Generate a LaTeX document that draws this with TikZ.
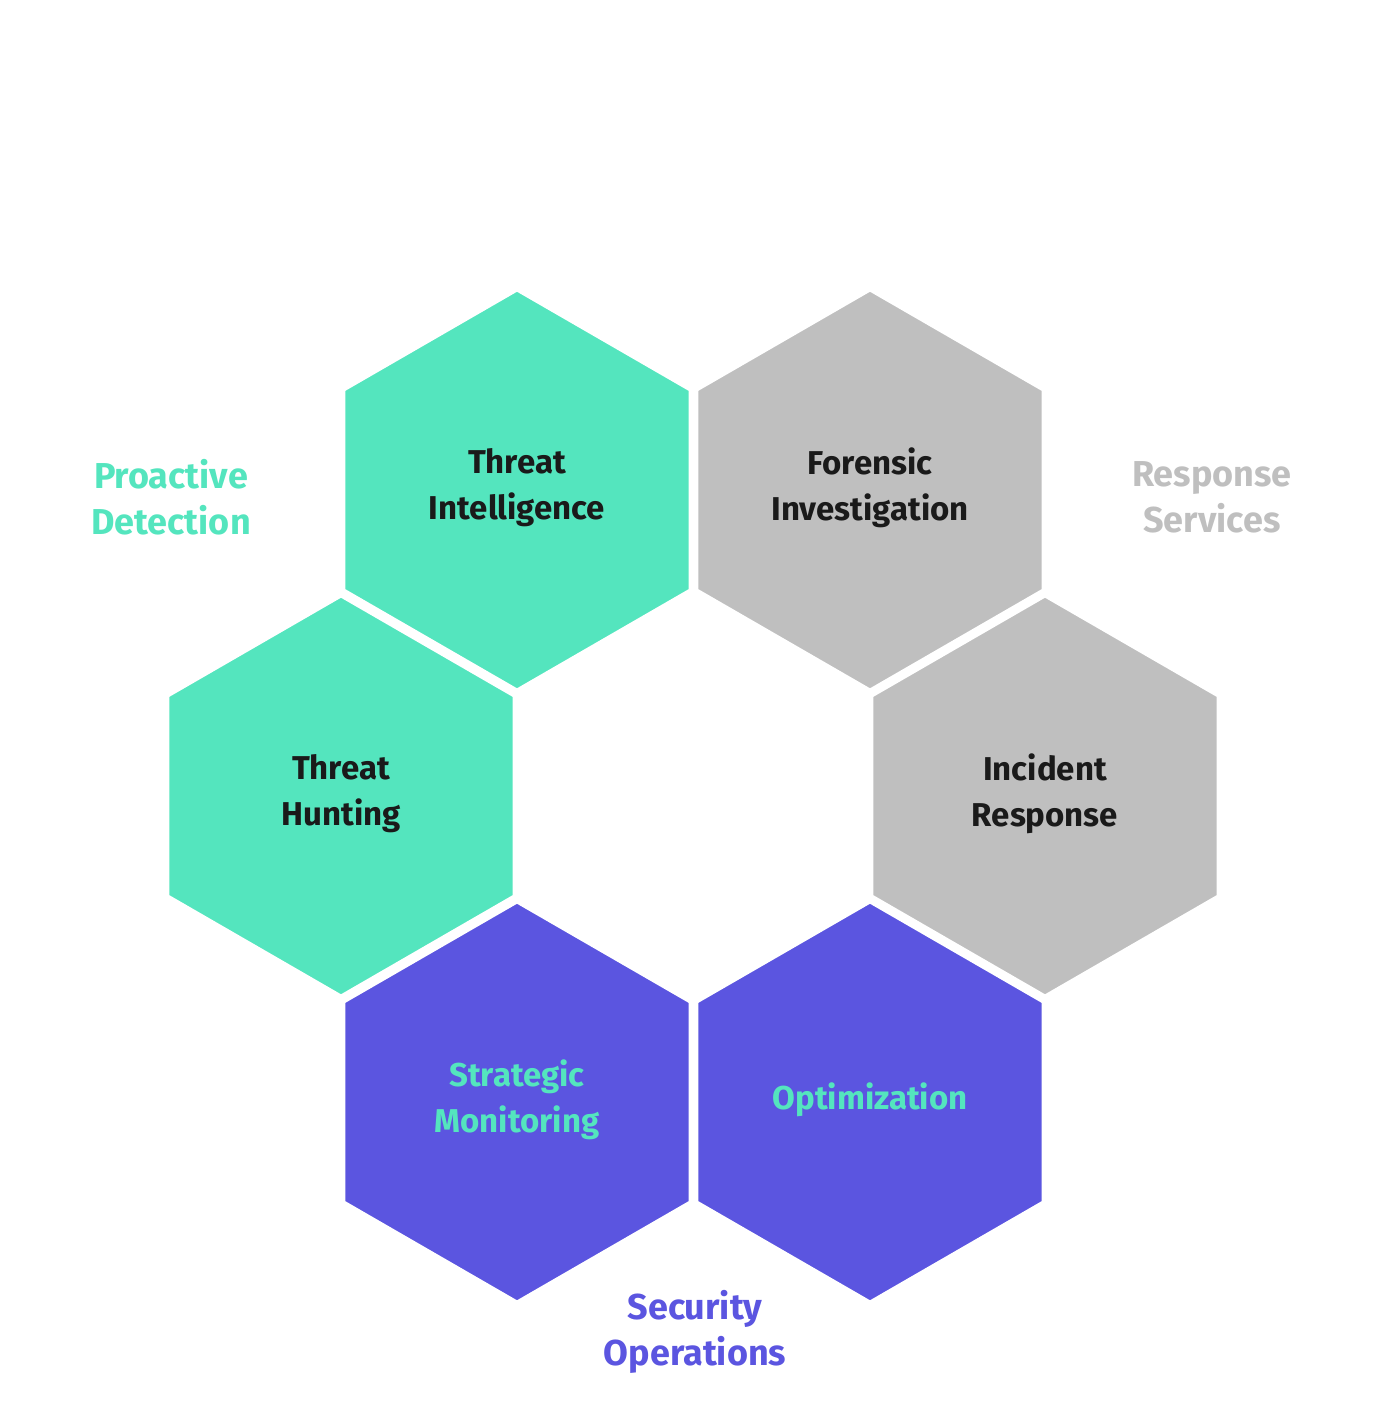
\documentclass[tikz,border=0pt]{standalone}
\usepackage{fontspec}
\setmainfont{Fira Sans}
\definecolor{teal}{HTML}{54E5BE}
\definecolor{grayc}{HTML}{BFBFBF}
\definecolor{purp}{HTML}{5B55E0}
\definecolor{dark}{HTML}{1A1A1A}
\tikzset{
 hexlabel/.style={align=center,font=\fontsize{33}{46}\selectfont\bfseries},
 grouplabel/.style={align=center,font=\fontsize{36}{46}\selectfont\bfseries},
}
\newcommand{\hexat}[3]{\fill[#3,draw=white,line width=3pt] ($(#1,#2)+(90:200)$) -- ($(#1,#2)+(150:200)$) -- ($(#1,#2)+(210:200)$) -- ($(#1,#2)+(270:200)$) -- ($(#1,#2)+(330:200)$) -- ($(#1,#2)+(30:200)$) -- cycle;}
\usetikzlibrary{calc}
\begin{document}
\begin{tikzpicture}[x=1pt,y=-1pt]
\useasboundingbox (0,0) rectangle (1392,1402);
\hexat{517}{490}{teal}
\hexat{870}{490}{grayc}
\hexat{341}{796}{teal}
\hexat{1045}{796}{grayc}
\hexat{517}{1102}{purp}
\hexat{870}{1102}{purp}
\node[hexlabel,text=dark] (ti) at (517,488) {Threat\\Intelligence};
\node[hexlabel,text=dark] (fi) at (870,488) {Forensic\\Investigation};
\node[hexlabel,text=dark] (th) at (341,794) {Threat\\Hunting};
\node[hexlabel,text=dark] (ir) at (1045,794) {Incident\\Response};
\node[hexlabel,text=teal] (sm) at (517,1100) {Strategic\\Monitoring};
\node[hexlabel,text=teal] (op) at (870,1100) {Optimization};
\node[grouplabel,text=teal] (pd) at (171,497) {Proactive\\Detection};
\node[grouplabel,text=grayc] (rs) at (1212,497) {Response\\Services};
\node[grouplabel,text=purp] (so) at (695,1332) {Security\\Operations};
\end{tikzpicture}
\end{document}
